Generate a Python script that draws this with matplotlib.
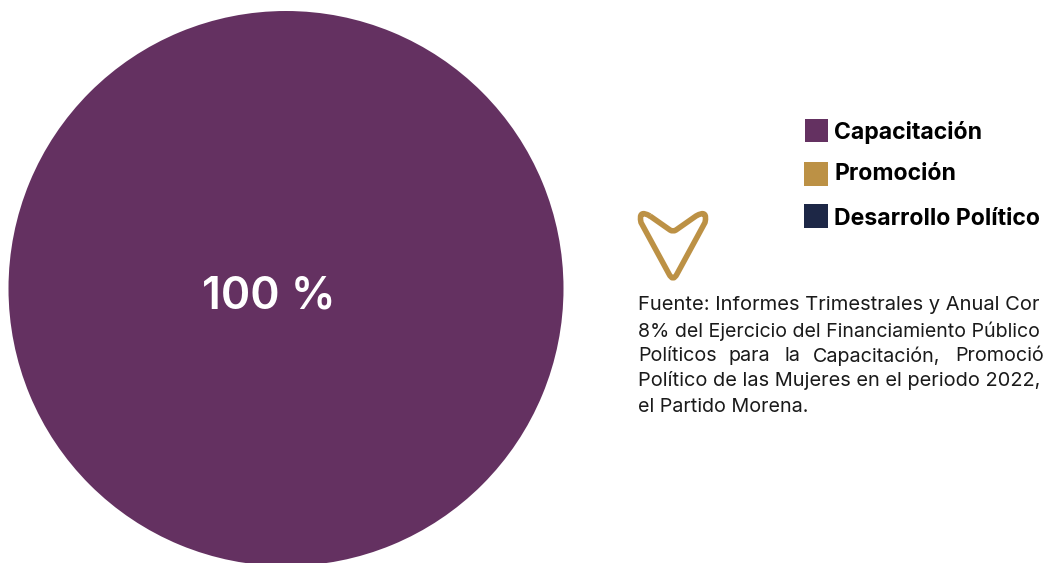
import matplotlib
matplotlib.use("Agg")
import matplotlib.pyplot as plt
from matplotlib.patches import Rectangle, PathPatch
from matplotlib.path import Path

categories = ["Capacitación", "Promoción", "Desarrollo Político"]
values = [100, 0, 0]
colors = ["#643161", "#BC9145", "#1D2746"]
center_label = "100 %"
note_lines = [
    "Fuente: Informes Trimestrales y Anual Cor",
    "8% del Ejercicio del Financiamiento Público",
    None,
    "Político de las Mujeres en el periodo 2022,",
    "el Partido Morena.",
]
note_line3_words = ["Políticos", "para", "la", "Capacitación,", "Promoció"]
note_line3_x = [638, 729, 784, 813, 955]

fig = plt.figure(figsize=(10.44, 5.63), dpi=100)
ax = fig.add_axes([0, 0, 1, 1])
ax.pie(values, colors=colors, center=(286, 288.5), radius=277.5, startangle=90,
       counterclock=False, frame=True, wedgeprops={"linewidth": 0})
ax.set_xlim(0, 1044)
ax.set_ylim(563, 0)
ax.set_aspect("equal")
ax.axis("off")

ax.text(268.5, 296.5, center_label, color="white", fontsize=32, fontweight="semibold",
        family="Inter", ha="center", va="center")

swatches = [(805, 119, 23), (804, 162, 24), (804, 204, 24)]
label_y = [133, 174, 219]
for c, cat, (x, y, s), ly in zip(colors, categories, swatches, label_y):
    ax.add_patch(Rectangle((x, y), s, s, facecolor=c, edgecolor="none"))
    ax.text(834, ly, cat, fontsize=16.6, fontweight="bold", family="Inter",
            color="black", ha="left", va="center")

verts = [(650, 216), (670, 230), (673, 232), (676, 230), (696, 216), (708, 209),
         (705, 222.5), (677, 274), (673, 282), (669, 274), (641, 222.5), (638, 209),
         (650, 216)]
codes = [Path.MOVETO, Path.LINETO, Path.CURVE3, Path.CURVE3, Path.LINETO, Path.CURVE3,
         Path.CURVE3, Path.LINETO, Path.CURVE3, Path.CURVE3, Path.LINETO, Path.CURVE3,
         Path.CURVE3]
ax.add_patch(PathPatch(Path(verts, codes), facecolor="none", edgecolor=colors[1],
                       linewidth=4.0, joinstyle="round"))

note_y = [305, 331, 356, 381, 407]
note_sizes = [14.5, 14.1, 14.4, 14.4, 14.2]
for line, y, fs in zip(note_lines, note_y, note_sizes):
    if line is not None:
        ax.text(638, y, line, fontsize=fs, family="Inter", color="#1a1a1a",
                ha="left", va="center")
for w, x in zip(note_line3_words, note_line3_x):
    ax.text(x, note_y[2], w, fontsize=14.2, family="Inter", color="#1a1a1a",
            ha="left", va="center")

fig.savefig("out.png", dpi=100, facecolor="white")
